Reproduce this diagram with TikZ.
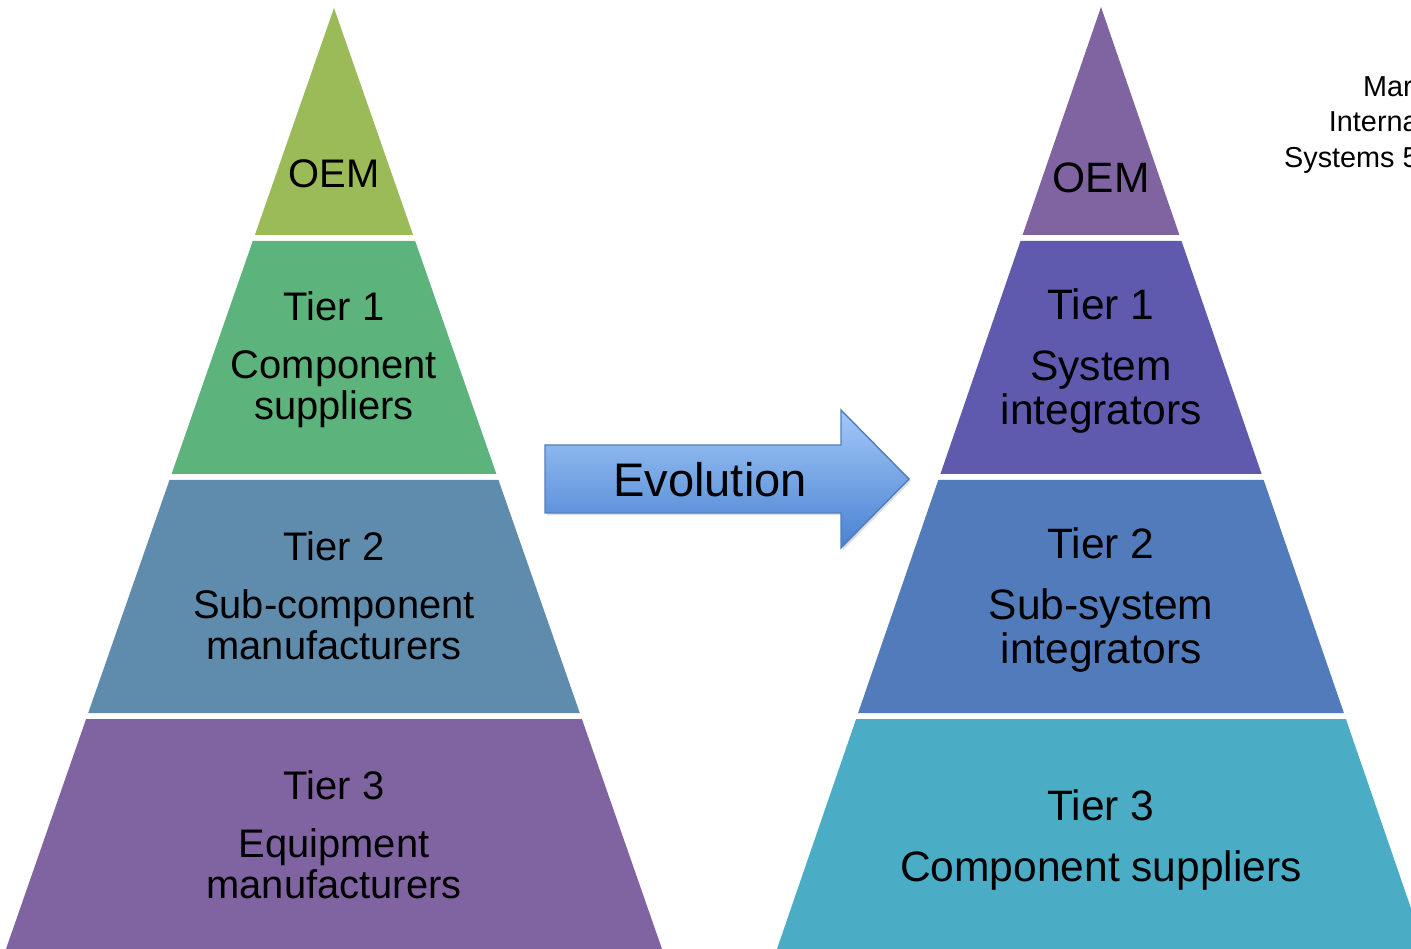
\documentclass[tikz,border=0pt]{standalone}
\usepackage{fontspec}
\setmainfont{Liberation Sans}
\usepackage{tikz}
\usetikzlibrary{shadows}
\definecolor{oemgreen}{RGB}{155,187,89}
\definecolor{tiergreen}{RGB}{92,179,124}
\definecolor{tiersteel}{RGB}{95,140,172}
\definecolor{tierpurple}{RGB}{128,100,162}
\definecolor{tierindigo}{RGB}{95,90,173}
\definecolor{tierblue}{RGB}{81,123,186}
\definecolor{tiercyan}{RGB}{75,172,198}
\definecolor{arrowtop}{RGB}{163,200,248}
\definecolor{arrowbottom}{RGB}{72,130,208}
\definecolor{arrowline}{RGB}{80,126,188}
\tikzstyle{lefttext}=[align=center, inner sep=0pt, font=\fontsize{22.7}{23.5}\selectfont]
\tikzstyle{righttext}=[align=center, inner sep=0pt, font=\fontsize{24.2}{25}\selectfont]
\tikzstyle{evoarrow}=[draw=arrowline, line width=0.8pt, top color=arrowtop, bottom color=arrowbottom, drop shadow={shadow xshift=1.2pt, shadow yshift=-1.2pt, opacity=0.25}]

\begin{document}
\begin{tikzpicture}[x=0.02cm, y=-0.02cm]
        \useasboundingbox (0,0) rectangle (1411,949);
        \clip (0,0) rectangle (1411,949);

        % Left pyramid
        \fill[oemgreen] (334,8) -- (413.1,235) -- (254.9,235) -- cycle;
        \fill[tiergreen] (252.8,241) -- (415.2,241) -- (496.4,474) -- (171.6,474) -- cycle;
        \fill[tiersteel] (169.5,480) -- (498.5,480) -- (579.8,713) -- (88.2,713) -- cycle;
        \fill[tierpurple] (86.1,719) -- (581.9,719) -- (662,949) -- (6,949) -- cycle;

        \node (oem-left) [lefttext] at (334,174) {OEM};
        \node (tier1-left) [lefttext] at (334,360) {Tier 1\\[9.4pt]Component\\suppliers};
        \node (tier2-left) [lefttext] at (334,596) {Tier 2\\[9.4pt]Sub-component\\manufacturers};
        \node (tier3-left) [lefttext] at (334,835) {Tier 3\\[9.4pt]Equipment\\manufacturers};

        % Evolution arrow
        \path[evoarrow] (545,445) -- (841,445) -- (841,410) -- (909,479) -- (841,548) -- (841,513) -- (545,513) -- cycle;
        \node (evolution) [inner sep=0pt, font=\fontsize{26.8}{30}\selectfont] at (710,480) {Evolution};

        % Right pyramid
        \fill[tierpurple] (1101,7) -- (1179.4,235) -- (1022.6,235) -- cycle;
        \fill[tierindigo] (1020.5,241) -- (1181.5,241) -- (1261.6,474) -- (940.4,474) -- cycle;
        \fill[tierblue] (938.3,480) -- (1263.7,480) -- (1343.9,713) -- (858.1,713) -- cycle;
        \fill[tiercyan] (856.1,719) -- (1345.9,719) -- (1425,949) -- (777,949) -- cycle;

        \node (oem-right) [righttext] at (1101,178) {OEM};
        \node (tier1-right) [righttext] at (1101,361) {Tier 1\\[10.2pt]System\\integrators};
        \node (tier2-right) [righttext] at (1101,600) {Tier 2\\[10.2pt]Sub-system\\integrators};
        \node (tier3-right) [righttext] at (1101,840) {Tier 3\\[10.2pt]Component suppliers};

        % Source note (cut off at the edge)
        \node (source) [anchor=east, align=right, inner sep=0pt, font=\fontsize{16.4}{20}\selectfont] at (1419,125) {Mar\hspace*{3.4pt}\\Interna\\Systems 5};
\end{tikzpicture}
\end{document}
